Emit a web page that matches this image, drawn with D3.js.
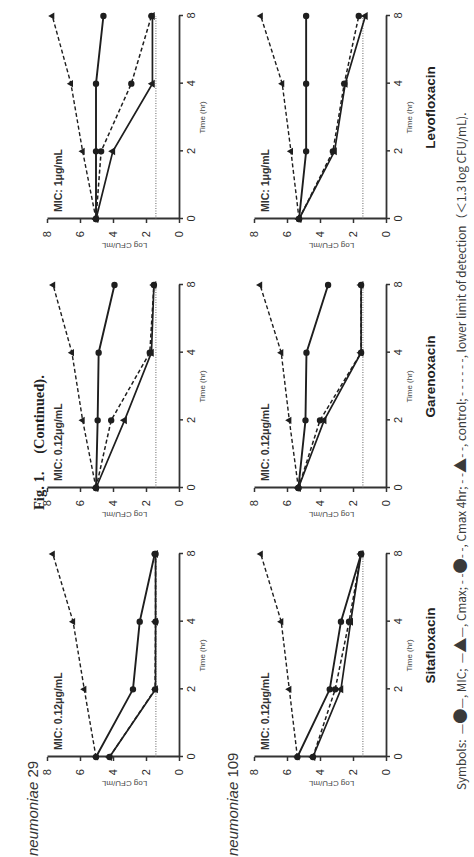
<!DOCTYPE html>
<html>
<head>
<meta charset="utf-8">
<script src="https://cdn.jsdelivr.net/npm/d3@7"></script>
<style>
    body { margin: 0; background: #fff; }
    svg { display: block; }
    text { font-family: "Liberation Sans", Arial, sans-serif; fill: #2a2a2a; }
</style>
</head>
<body>
<div id="chart"></div>
<script>
'use strict';

// ---- data ----
var times = ["0", "2", "4", "8"];
var drugs = ["Sitafloxacin", "Garenoxacin", "Levofloxacin"];
var strains = ["29", "109"];
var micLabels = ["MIC: 0.12μg/mL", "MIC: 0.12μg/mL", "MIC: 1μg/mL"];
var logTicks = [0, 2, 4, 6, 8];
var lowerLimit = 1.4;

// strain 29, per drug: Sitafloxacin, Garenoxacin, Levofloxacin
var control29 = [[5.03, 5.74, 6.42, 7.65], [5.03, 5.84, 6.49, 7.63], [5.03, 5.84, 6.55, 7.68]];
var mic29     = [[5.03, 2.79, 2.38, 1.47], [5.03, 4.93, 4.87, 3.91], [5.03, 5.03, 5.03, 4.58]];
var cmax29    = [[4.21, 1.42, 1.42, 1.42], [5.03, 3.30, 1.67, 1.52], [5.03, 4.01, 1.61, 1.61]];
var cmax4h29  = [[4.21, 1.45, 1.42, 1.42], [5.03, 4.11, 1.77, 1.52], [5.03, 4.72, 2.89, 1.67]];

// strain 109
var control109 = [[5.37, 5.86, 6.35, 7.59], [5.31, 5.86, 6.35, 7.63], [5.27, 5.76, 6.29, 7.59]];
var mic109     = [[5.37, 3.41, 2.73, 1.51], [5.31, 4.88, 4.82, 3.51], [5.27, 4.84, 4.84, 4.84]];
var cmax109    = [[4.43, 2.73, 2.14, 1.51], [5.31, 3.75, 1.51, 1.51], [5.27, 3.12, 2.47, 1.25]];
var cmax4h109  = [[4.43, 3.08, 2.24, 1.51], [5.31, 4.00, 1.51, 1.51], [5.27, 3.22, 2.53, 1.65]];

var seriesKeys = ["control", "cmax4h", "cmax", "mic"];
var byStrain = [
    { control: control29, mic: mic29, cmax: cmax29, cmax4h: cmax4h29 },
    { control: control109, mic: mic109, cmax: cmax109, cmax4h: cmax4h109 }
];

// line / marker look per series
var look = {
    control: { dash: "4,2.5", width: 1.4, symbol: d3.symbolTriangle, size: 22 },
    cmax4h:  { dash: "4,2.5", width: 1.5, symbol: d3.symbolCircle, size: 32 },
    cmax:    { dash: null,    width: 1.7, symbol: d3.symbolTriangle, size: 28 },
    mic:     { dash: null,    width: 1.9, symbol: d3.symbolCircle, size: 32 }
};

// ---- layout, figure is drawn unrotated then turned -90deg ----
var pageW = 474, pageH = 857;
var colU = [100, 369, 638], plotW = 203;
var rowTop = [47, 254], plotH = 132;

var svg = d3.select("#chart").append("svg")
    .attr("width", pageW)
    .attr("height", pageH);

svg.append("rect").attr("width", pageW).attr("height", pageH).attr("fill", "#fff");

var fig = svg.append("g")
    .attr("transform", "translate(0," + pageH + ") rotate(-90)");

// title
var title = fig.append("text")
    .attr("x", 347).attr("y", 44)
    .style("font-family", "'Liberation Serif', 'DejaVu Serif', serif")
    .style("font-size", "14.5px")
    .style("font-weight", "bold")
    .style("fill", "#222");
title.append("tspan").text("Fig. 1.");
title.append("tspan").attr("dx", 18).text("(Continued).");

// strain labels (the page edge cuts the species name, only its tail shows)
var strainBase = [38, 238];
strains.forEach(function (s, r) {
    var t = fig.append("text")
        .attr("x", 1).attr("y", strainBase[r])
        .style("font-size", "15px")
        .style("fill", "#333");
    t.append("tspan").style("font-style", "italic").text("neumoniae");
    t.append("tspan").text(" " + s);
});

var line = d3.line();

strains.forEach(function (s, r) {
    drugs.forEach(function (drug, c) {
        var x = d3.scalePoint().domain(times).range([colU[c], colU[c] + plotW]);
        var y = d3.scaleLinear().domain([0, 8]).range([rowTop[r] + plotH, rowTop[r]]);

        var panel = fig.append("g").attr("class", "panel");

        // axes
        var xAxis = panel.append("g")
            .attr("transform", "translate(0," + y(0) + ")")
            .call(d3.axisBottom(x).tickSize(4).tickSizeOuter(0).tickPadding(4));
        var yAxis = panel.append("g")
            .attr("transform", "translate(" + x("0") + ",0)")
            .call(d3.axisLeft(y).tickValues(logTicks).tickSize(4).tickSizeOuter(0).tickPadding(8));

        [xAxis, yAxis].forEach(function (a) {
            a.select(".domain").attr("stroke", "#333").attr("stroke-width", 1.8);
            a.selectAll(".tick line").attr("stroke", "#333").attr("stroke-width", 1.5);
            a.selectAll(".tick text")
                .style("font-size", "11px")
                .style("font-family", "'Liberation Sans', Arial, sans-serif")
                .attr("fill", "#333");
        });

        // axis titles
        panel.append("text")
            .attr("x", colU[c] + plotW / 2)
            .attr("y", y(0) + 23)
            .attr("text-anchor", "middle")
            .attr("dominant-baseline", "central")
            .style("font-size", "8px")
            .style("fill", "#444")
            .text("Time (hr)");

        panel.append("text")
            .attr("transform", "translate(" + (colU[c] - 24) + "," + y(3.3) + ") rotate(-90)")
            .attr("text-anchor", "middle")
            .style("font-size", "8px")
            .style("fill", "#444")
            .text("Log CFU/mL");

        // MIC note
        panel.append("text")
            .attr("x", colU[c] + 7)
            .attr("y", rowTop[r] + 15)
            .style("font-size", "10.5px")
            .style("font-weight", "bold")
            .style("fill", "#333")
            .text(micLabels[c]);

        // lower limit of detection
        panel.append("line")
            .attr("x1", x("0")).attr("x2", x("8"))
            .attr("y1", y(lowerLimit)).attr("y2", y(lowerLimit))
            .attr("stroke", "#555")
            .attr("stroke-width", 0.9)
            .attr("stroke-dasharray", "1,1.5");

        // series
        seriesKeys.forEach(function (k) {
            var vals = byStrain[r][k][c];
            var pts = times.map(function (t, i) { return [x(t), y(vals[i])]; });
            panel.append("path")
                .attr("d", line(pts))
                .attr("fill", "none")
                .attr("stroke", "#1e1e1e")
                .attr("stroke-width", look[k].width)
                .attr("stroke-dasharray", look[k].dash);
        });
        seriesKeys.forEach(function (k) {
            var vals = byStrain[r][k][c];
            panel.selectAll("path.m-" + k)
                .data(vals)
                .enter().append("path")
                .attr("class", "m-" + k)
                .attr("d", d3.symbol().type(look[k].symbol).size(look[k].size))
                .attr("transform", function (d, i) { return "translate(" + x(times[i]) + "," + y(d) + ")"; })
                .attr("fill", "#1e1e1e");
        });

        // drug name, only under the second row
        if (r === 1) {
            fig.append("text")
                .attr("x", colU[c] + plotW / 2 + 10)
                .attr("y", 435)
                .attr("text-anchor", "middle")
                .style("font-size", "13.5px")
                .style("font-weight", "bold")
                .style("fill", "#222")
                .text(drug);
        }
    });
});

// symbols legend
var legend = fig.append("text")
    .attr("x", 67).attr("y", 466)
    .style("font-family", "'Noto Sans CJK JP', 'Noto Sans', sans-serif")
    .style("font-size", "11px")
    .style("fill", "#3a3a3a");

var legendParts = [
    ["Symbols:  —", 1], ["●", 1.3], ["—, MIC;  —", 1], ["▲", 1.3], ["—, Cmax; - -", 1], ["●", 1.3],
    ["- -, Cmax 4hr; - -", 1], ["▲", 1.3], ["- -, control; - - - - - -, lower limit of detection（＜1.3 log CFU/mL).", 1]
];
legendParts.forEach(function (p) {
    legend.append("tspan").style("font-size", p[1] + "em").text(p[0]);
});
legend.attr("xml:space", "preserve");

// stretch to the width seen in the figure
var want = 678, got = legend.node().getComputedTextLength();
if (got > 0) legend.style("font-size", (11 * want / got) + "px");
</script>
</body>
</html>
